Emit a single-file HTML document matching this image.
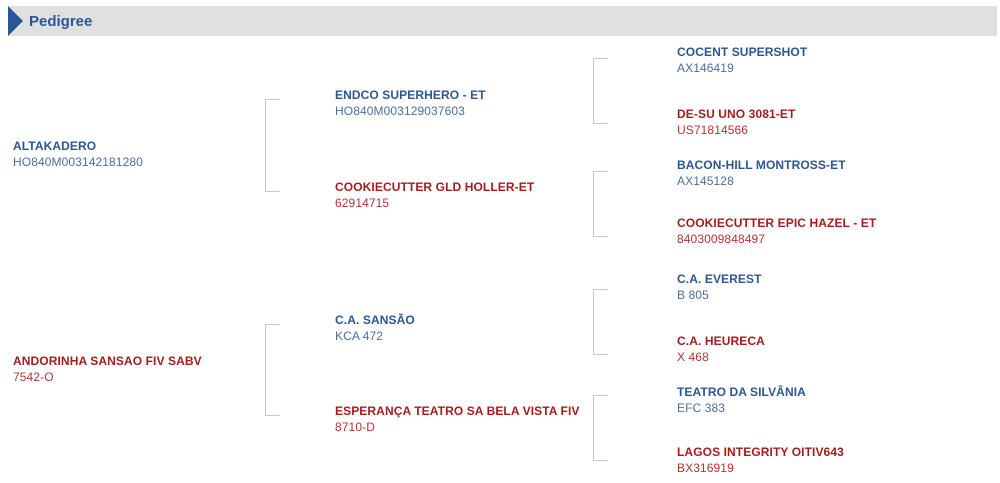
<!DOCTYPE html>
<html><head><meta charset="utf-8"><style>
body{margin:0;width:1000px;height:483px;background:#fff;position:relative;font-family:"Liberation Sans",Arial,sans-serif;overflow:hidden}
.hdr{position:absolute;left:8px;top:6px;width:989px;height:30px;background:#e0e0e0}
.tri{position:absolute;left:8px;top:6px;width:0;height:0;border-top:15px solid transparent;border-bottom:15px solid transparent;border-left:15px solid #2c5597}
.ttl{position:absolute;left:29px;top:12px;font-size:15px;font-weight:bold;color:#2c5597;line-height:20px}
.n{position:absolute;font-size:12px;line-height:16px;white-space:nowrap;letter-spacing:0.1px}
.n b{display:block;font-weight:bold}
.m{color:#2d5591}.m span{color:#4d6c9c}
.f{color:#a51c1c}.f span{color:#b83232}
.br{position:absolute;border:1px solid #c8c8c8;border-right:none;width:14px}
</style></head><body>
<div class="hdr"></div><div class="tri"></div><div class="ttl">Pedigree</div>

<div class="br" style="left:265px;top:99px;height:91px"></div>
<div class="br" style="left:265px;top:324px;height:90px"></div>
<div class="br" style="left:593px;top:58px;height:64px"></div>
<div class="br" style="left:593px;top:171px;height:64px"></div>
<div class="br" style="left:593px;top:289px;height:64px"></div>
<div class="br" style="left:593px;top:395px;height:64px"></div>

<div class="n m" style="left:13px;top:138px"><b>ALTAKADERO</b><span>HO840M003142181280</span></div>
<div class="n f" style="left:13px;top:353px"><b>ANDORINHA SANSAO FIV SABV</b><span>7542-O</span></div>

<div class="n m" style="left:335px;top:87px"><b>ENDCO SUPERHERO - ET</b><span>HO840M003129037603</span></div>
<div class="n f" style="left:335px;top:179px"><b>COOKIECUTTER GLD HOLLER-ET</b><span>62914715</span></div>
<div class="n m" style="left:335px;top:312px"><b>C.A. SANSÃO</b><span>KCA 472</span></div>
<div class="n f" style="left:335px;top:403px"><b>ESPERANÇA TEATRO SA BELA VISTA FIV</b><span>8710-D</span></div>

<div class="n m" style="left:677px;top:44px"><b>COCENT SUPERSHOT</b><span>AX146419</span></div>
<div class="n f" style="left:677px;top:106px"><b>DE-SU UNO 3081-ET</b><span>US71814566</span></div>
<div class="n m" style="left:677px;top:157px"><b>BACON-HILL MONTROSS-ET</b><span>AX145128</span></div>
<div class="n f" style="left:677px;top:215px"><b>COOKIECUTTER EPIC HAZEL - ET</b><span>8403009848497</span></div>
<div class="n m" style="left:677px;top:271px"><b>C.A. EVEREST</b><span>B 805</span></div>
<div class="n f" style="left:677px;top:333px"><b>C.A. HEURECA</b><span>X 468</span></div>
<div class="n m" style="left:677px;top:384px"><b>TEATRO DA SILVÂNIA</b><span>EFC 383</span></div>
<div class="n f" style="left:677px;top:444px"><b>LAGOS INTEGRITY OITIV643</b><span>BX316919</span></div>
</body></html>
